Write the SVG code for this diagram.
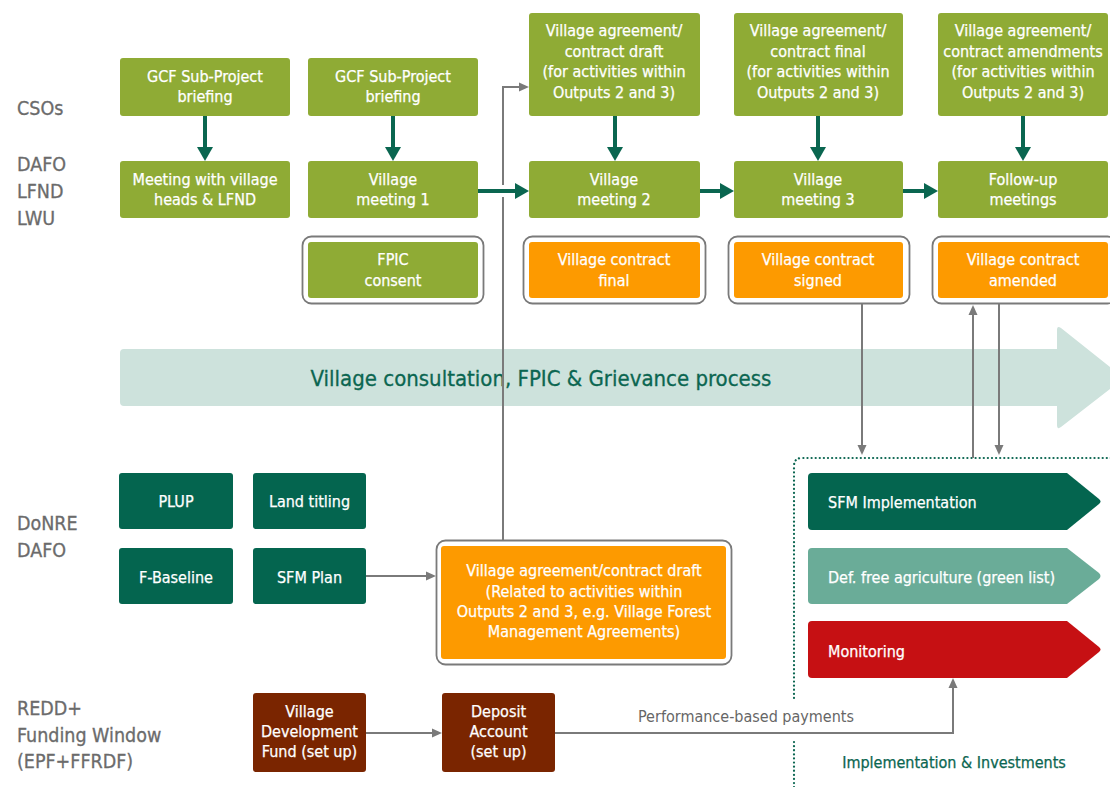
<svg xmlns="http://www.w3.org/2000/svg" width="1110" height="787" viewBox="0 0 1110 787">
<defs>
<style>
text{font-family:'DejaVu Sans Condensed','DejaVu Sans',sans-serif;font-stretch:condensed}
.bt{fill:#fff;font-size:16px;text-anchor:middle;stroke:#fff;stroke-width:0.25}
.lbl{fill:#6b6b6b;font-size:19.5px;stroke:#6b6b6b;stroke-width:0.3}
.g{fill:#8fab35}
.o{fill:#fd9a00}
.dg{fill:#04654f}
.br{fill:#7a2500}
.frame{fill:#fff;stroke:#7a7a7a;stroke-width:1.8}
.gl{fill:none;stroke:#7a7a7a;stroke-width:2}
.gr{fill:none;stroke:#0a6650;stroke-width:4}
.dots{fill:none;stroke:#0b6651;stroke-width:2.2;stroke-linecap:round;stroke-dasharray:0.1 4}
</style>
<marker id="ag" markerUnits="userSpaceOnUse" markerWidth="10" markerHeight="10" refX="0" refY="4.5" orient="auto" overflow="visible"><path d="M0,0 L10,4.5 L0,9 Z" fill="#7a7a7a"/></marker>
<marker id="an" markerUnits="userSpaceOnUse" markerWidth="14" markerHeight="16" refX="0" refY="8" orient="auto" overflow="visible"><path d="M0,0 L14,8 L0,16 Z" fill="#0a6650"/></marker>
</defs>
<rect width="1110" height="787" fill="#fff"/>

<g id="labels">
<text class="lbl" x="17" y="115">CSOs</text>
<text class="lbl" x="17" y="171">DAFO</text>
<text class="lbl" x="17" y="198">LFND</text>
<text class="lbl" x="17" y="225">LWU</text>
<text class="lbl" x="17" y="530">DoNRE</text>
<text class="lbl" x="17" y="557">DAFO</text>
<text class="lbl" x="17" y="715">REDD+</text>
<text class="lbl" x="17" y="742">Funding Window</text>
<text class="lbl" x="17" y="768">(EPF+FFRDF)</text>
</g>

<g id="consultation-arrow">
<path d="M124,349 H1057 V330 Q1057,325 1061,328 L1124,378 L1061,427 Q1057,430 1057,425 V406 H124 Q120,406 120,402 V353 Q120,349 124,349 Z" fill="#cde2dc"/>
<text x="541" y="386" fill="#0b6651" stroke="#0b6651" stroke-width="0.3" font-size="22" text-anchor="middle">Village consultation, FPIC &amp; Grievance process</text>
</g>

<g id="impl-frame">
<path class="dots" d="M794,698 V466 Q794,458 802,458 H1115"/>
<path class="dots" d="M794,742 V790"/>
<text x="954" y="768" fill="#0b6651" stroke="#0b6651" stroke-width="0.25" font-size="16" text-anchor="middle">Implementation &amp; Investments</text>
</g>

<g id="connectors">
<path class="gl" d="M503,540 V87 H519" marker-end="url(#ag)"/>
<path class="gl" d="M366,576 H426" marker-end="url(#ag)"/>
<path class="gl" d="M366,733 H432" marker-end="url(#ag)"/>
<path class="gl" d="M555,733 H953 V688" marker-end="url(#ag)"/>
<path class="gl" d="M862,304 V445" marker-end="url(#ag)"/>
<path class="gl" d="M973,458 V315" marker-end="url(#ag)"/>
<path class="gl" d="M999,304 V445" marker-end="url(#ag)"/>
<path d="M497,191 H509" stroke="#fff" stroke-width="12"/>
<path class="gr" d="M205,116 V147" marker-end="url(#an)"/>
<path class="gr" d="M393,116 V147" marker-end="url(#an)"/>
<path class="gr" d="M615,116 V147" marker-end="url(#an)"/>
<path class="gr" d="M818,116 V147" marker-end="url(#an)"/>
<path class="gr" d="M1023,116 V147" marker-end="url(#an)"/>
<path class="gr" d="M478,191 H515" marker-end="url(#an)"/>
<path class="gr" d="M700,191 H720" marker-end="url(#an)"/>
<path class="gr" d="M903,191 H924" marker-end="url(#an)"/>
<text x="638" y="722" fill="#666" font-size="16">Performance-based payments</text>
</g>

<g id="gcf-briefing-1">
<rect class="g" x="120" y="58" width="170" height="58" rx="3"/>
<text class="bt" x="205" y="82">GCF Sub-Project</text>
<text class="bt" x="205" y="102">briefing</text>
</g>
<g id="gcf-briefing-2">
<rect class="g" x="308" y="58" width="170" height="58" rx="3"/>
<text class="bt" x="393" y="82">GCF Sub-Project</text>
<text class="bt" x="393" y="102">briefing</text>
</g>
<g id="agreement-draft">
<rect class="g" x="529" y="13" width="171" height="103" rx="3"/>
<text class="bt" x="614" y="36">Village agreement/</text>
<text class="bt" x="614" y="57">contract draft</text>
<text class="bt" x="614" y="77">(for activities within</text>
<text class="bt" x="614" y="98">Outputs 2 and 3)</text>
</g>
<g id="agreement-final">
<rect class="g" x="734" y="13" width="169" height="103" rx="3"/>
<text class="bt" x="818" y="36">Village agreement/</text>
<text class="bt" x="818" y="57">contract final</text>
<text class="bt" x="818" y="77">(for activities within</text>
<text class="bt" x="818" y="98">Outputs 2 and 3)</text>
</g>
<g id="agreement-amend">
<rect class="g" x="938" y="13" width="170" height="103" rx="3"/>
<text class="bt" x="1023" y="36">Village agreement/</text>
<text class="bt" x="1023" y="57">contract amendments</text>
<text class="bt" x="1023" y="77">(for activities within</text>
<text class="bt" x="1023" y="98">Outputs 2 and 3)</text>
</g>

<g id="meeting-heads">
<rect class="g" x="120" y="161" width="170" height="57" rx="3"/>
<text class="bt" x="205" y="185">Meeting with village</text>
<text class="bt" x="205" y="205">heads &amp; LFND</text>
</g>
<g id="village-meeting-1">
<rect class="g" x="308" y="161" width="170" height="57" rx="3"/>
<text class="bt" x="393" y="185">Village</text>
<text class="bt" x="393" y="205">meeting 1</text>
</g>
<g id="village-meeting-2">
<rect class="g" x="529" y="161" width="171" height="57" rx="3"/>
<text class="bt" x="614" y="185">Village</text>
<text class="bt" x="614" y="205">meeting 2</text>
</g>
<g id="village-meeting-3">
<rect class="g" x="734" y="161" width="169" height="57" rx="3"/>
<text class="bt" x="818" y="185">Village</text>
<text class="bt" x="818" y="205">meeting 3</text>
</g>
<g id="follow-up">
<rect class="g" x="938" y="161" width="170" height="57" rx="3"/>
<text class="bt" x="1023" y="185">Follow-up</text>
<text class="bt" x="1023" y="205">meetings</text>
</g>

<g id="fpic">
<rect class="frame" x="302.5" y="236.5" width="181" height="67" rx="9"/>
<rect class="g" x="308" y="242" width="170" height="56" rx="3"/>
<text class="bt" x="393" y="265">FPIC</text>
<text class="bt" x="393" y="286">consent</text>
</g>
<g id="contract-final">
<rect class="frame" x="523.5" y="236.5" width="182" height="67" rx="9"/>
<rect class="o" x="529" y="242" width="171" height="56" rx="3"/>
<text class="bt" x="614" y="265">Village contract</text>
<text class="bt" x="614" y="286">final</text>
</g>
<g id="contract-signed">
<rect class="frame" x="728.5" y="236.5" width="181" height="67" rx="9"/>
<rect class="o" x="734" y="242" width="169" height="56" rx="3"/>
<text class="bt" x="818" y="265">Village contract</text>
<text class="bt" x="818" y="286">signed</text>
</g>
<g id="contract-amended">
<rect class="frame" x="932.5" y="236.5" width="184" height="67" rx="9"/>
<rect class="o" x="938" y="242" width="170" height="56" rx="3"/>
<text class="bt" x="1023" y="265">Village contract</text>
<text class="bt" x="1023" y="286">amended</text>
</g>

<g id="plup">
<rect class="dg" x="119" y="473" width="114" height="56" rx="3"/>
<text class="bt" x="176" y="507">PLUP</text>
</g>
<g id="land-titling">
<rect class="dg" x="253" y="473" width="113" height="56" rx="3"/>
<text class="bt" x="309.5" y="507">Land titling</text>
</g>
<g id="f-baseline">
<rect class="dg" x="119" y="548" width="114" height="56" rx="3"/>
<text class="bt" x="176" y="583">F-Baseline</text>
</g>
<g id="sfm-plan">
<rect class="dg" x="253" y="548" width="113" height="56" rx="3"/>
<text class="bt" x="309.5" y="583">SFM Plan</text>
</g>

<g id="agreement-draft-related">
<rect class="frame" x="436.5" y="540.5" width="295" height="124" rx="9"/>
<rect class="o" x="441" y="546" width="285" height="113" rx="3"/>
<text class="bt" x="584" y="576">Village agreement/contract draft</text>
<text class="bt" x="584" y="597">(Related to activities within</text>
<text class="bt" x="584" y="617">Outputs 2 and 3, e.g. Village Forest</text>
<text class="bt" x="584" y="637">Management Agreements)</text>
</g>

<g id="vdf">
<rect class="br" x="253" y="693" width="113" height="79" rx="3"/>
<text class="bt" x="309.5" y="717">Village</text>
<text class="bt" x="309.5" y="737">Development</text>
<text class="bt" x="309.5" y="757">Fund (set up)</text>
</g>
<g id="deposit">
<rect class="br" x="442" y="693" width="113" height="79" rx="3"/>
<text class="bt" x="498.5" y="717">Deposit</text>
<text class="bt" x="498.5" y="737">Account</text>
<text class="bt" x="498.5" y="757">(set up)</text>
</g>

<g id="sfm-impl">
<path d="M812,473 H1067 L1099,499 Q1102,501.5 1099,504 L1067,530 H812 Q808,530 808,526 V477 Q808,473 812,473 Z" fill="#04654f"/>
<text class="bt" x="828" y="508" style="text-anchor:start">SFM Implementation</text>
</g>
<g id="def-free">
<path d="M812,548 H1067 L1099,573 Q1102,576 1099,579 L1067,604 H812 Q808,604 808,600 V552 Q808,548 812,548 Z" fill="#6aac98"/>
<text class="bt" x="828" y="583" style="text-anchor:start">Def. free agriculture (green list)</text>
</g>
<g id="monitoring">
<path d="M812,621 H1067 L1099,647 Q1102,649.5 1099,652 L1067,678 H812 Q808,678 808,674 V625 Q808,621 812,621 Z" fill="#c61013"/>
<text class="bt" x="828" y="657" style="text-anchor:start">Monitoring</text>
</g>
</svg>
